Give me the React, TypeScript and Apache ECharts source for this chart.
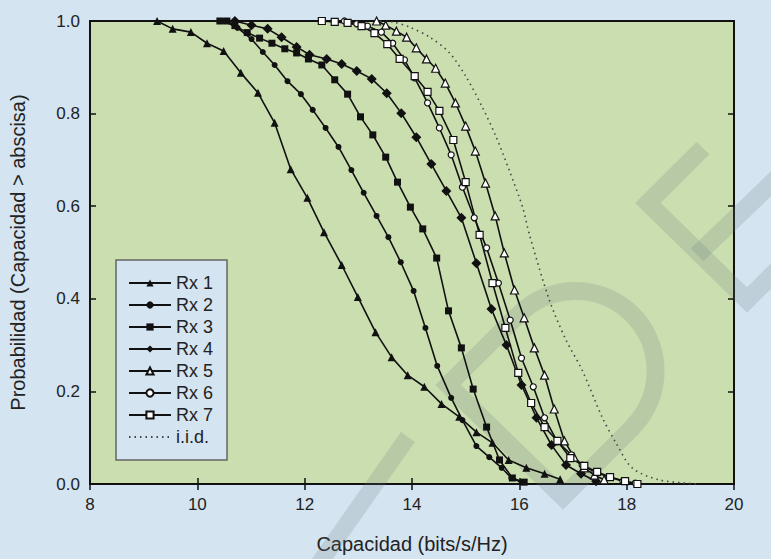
import React, { useEffect, useRef } from "react";
import * as echarts from "echarts";

const xTicks = [8, 10, 12, 14, 16, 18, 20];
const yTicks = [0, 0.2, 0.4, 0.6, 0.8, 1.0];
const seriesNames = ["Rx 1", "Rx 2", "Rx 3", "Rx 4", "Rx 5", "Rx 6", "Rx 7", "i.i.d."];

const rx1X = [9.25, 9.54, 9.88, 10.18, 10.49, 10.81, 11.13, 11.44, 11.74, 12.05, 12.36, 12.69, 12.99, 13.32, 13.62, 13.92, 14.23, 14.55, 14.88, 15.2, 15.5, 15.8, 16.13, 16.47, 16.76];
const rx1Y = [1.0, 0.983, 0.976, 0.952, 0.935, 0.888, 0.845, 0.78, 0.68, 0.618, 0.544, 0.473, 0.404, 0.328, 0.274, 0.235, 0.21, 0.173, 0.145, 0.112, 0.089, 0.052, 0.035, 0.022, 0.01];

const rx2X = [10.5, 10.75, 11.01, 11.22, 11.44, 11.68, 11.93, 12.15, 12.39, 12.63, 12.87, 13.1, 13.34, 13.56, 13.79, 14.03, 14.25, 14.47, 14.73, 14.94, 15.2, 15.44, 15.67, 15.85, 16.04];
const rx2Y = [1.0, 0.985, 0.961, 0.933, 0.905, 0.87, 0.842, 0.808, 0.769, 0.728, 0.678, 0.629, 0.579, 0.533, 0.479, 0.417, 0.337, 0.255, 0.186, 0.138, 0.082, 0.058, 0.035, 0.013, 0.004];

const rx3X = [10.42, 10.55, 10.7, 10.93, 11.16, 11.39, 11.63, 11.85, 12.07, 12.32, 12.56, 12.8, 13.04, 13.27, 13.51, 13.73, 13.97, 14.2, 14.46, 14.68, 14.92, 15.14, 15.39, 15.63, 15.87, 16.09];
const rx3Y = [1.0, 1.0, 0.99, 0.975, 0.963, 0.952, 0.94, 0.931, 0.918, 0.905, 0.873, 0.842, 0.793, 0.754, 0.706, 0.652, 0.598, 0.551, 0.488, 0.374, 0.294, 0.205, 0.123, 0.052, 0.013, 0.004];

const rx4X = [10.7, 11.01, 11.31, 11.57, 11.85, 12.09, 12.41, 12.69, 12.97, 13.25, 13.53, 13.8, 14.08, 14.36, 14.64, 14.92, 15.2, 15.48, 15.76, 16.04, 16.32, 16.6, 16.87, 17.15, 17.43];
const rx4Y = [1.0, 0.991, 0.983, 0.965, 0.944, 0.927, 0.918, 0.907, 0.892, 0.875, 0.844, 0.801, 0.749, 0.691, 0.633, 0.575, 0.477, 0.378, 0.3, 0.214, 0.143, 0.084, 0.041, 0.022, 0.006];

const rx5X = [13.34, 13.51, 13.71, 13.9, 14.08, 14.27, 14.44, 14.62, 14.81, 15.0, 15.18, 15.37, 15.55, 15.72, 15.91, 16.09, 16.28, 16.47, 16.65, 16.84, 17.02, 17.21, 17.4, 17.58];
const rx5Y = [1.0, 0.991, 0.978, 0.965, 0.942, 0.918, 0.898, 0.866, 0.823, 0.773, 0.719, 0.65, 0.579, 0.499, 0.419, 0.359, 0.294, 0.235, 0.162, 0.093, 0.058, 0.035, 0.019, 0.009];

const rx6X = [12.74, 12.97, 13.17, 13.43, 13.64, 13.86, 14.05, 14.29, 14.51, 14.73, 14.94, 15.16, 15.39, 15.61, 15.83, 16.04, 16.26, 16.47, 16.71, 16.97, 17.17, 17.41, 17.67, 17.93, 18.16];
const rx6Y = [1.0, 0.994, 0.989, 0.976, 0.952, 0.916, 0.877, 0.823, 0.769, 0.711, 0.641, 0.575, 0.51, 0.434, 0.354, 0.272, 0.21, 0.143, 0.091, 0.063, 0.041, 0.026, 0.015, 0.006, 0.002];

const rx7X = [12.32, 12.56, 12.8, 13.06, 13.3, 13.54, 13.77, 14.05, 14.29, 14.51, 14.77, 15.0, 15.26, 15.5, 15.74, 15.98, 16.22, 16.47, 16.71, 16.95, 17.21, 17.45, 17.69, 17.97, 18.2];
const rx7Y = [1.0, 0.998, 0.996, 0.989, 0.974, 0.95, 0.918, 0.881, 0.847, 0.806, 0.743, 0.652, 0.538, 0.434, 0.337, 0.24, 0.175, 0.123, 0.093, 0.056, 0.039, 0.026, 0.015, 0.006, 0.0];

const iidX = [13.3, 13.64, 13.95, 14.33, 14.7, 15.01, 15.31, 15.57, 15.81, 16.06, 16.19, 16.56, 16.87, 17.17, 17.54, 17.8, 18.1, 18.6, 19.35];
const iidY = [1.0, 0.998, 0.987, 0.965, 0.931, 0.879, 0.814, 0.749, 0.678, 0.598, 0.538, 0.397, 0.311, 0.246, 0.145, 0.089, 0.035, 0.009, 0.0];

const zip = (xs: number[], ys: number[]) => xs.map((x, i) => [x, ys[i]]);

export default function App() {
  const ref = useRef<HTMLDivElement>(null);
  useEffect(() => {
    if (!ref.current) return;
    const chart = echarts.init(ref.current, null, { renderer: "svg" });
    const font = "'Liberation Sans', Arial, sans-serif";
    const mk = (name: string, data: number[][], symbol: string, size: number, open: boolean) => ({
      name,
      type: "line",
      data,
      symbol,
      symbolSize: size,
      showSymbol: true,
      lineStyle: { color: "#111", width: 1.6 },
      itemStyle: { color: open ? "#ffffff" : "#111", borderColor: "#111", borderWidth: open ? 1.2 : 0 },
      z: 3,
    });
    const wm = "rgba(110,125,125,0.2)";
    const deg = Math.PI / 180;
    const wmStroke = (points: number[][], w: number) => ({
      type: "polyline", z: 1, silent: true,
      shape: { points },
      style: { stroke: wm, lineWidth: w, fill: "none", lineJoin: "miter" },
    });
    chart.setOption({
      animation: false,
      backgroundColor: "#d4e4f0",
      grid: { left: 90, right: 37, top: 21, bottom: 75, show: true, backgroundColor: "#cadeb0", borderColor: "#111", borderWidth: 2 },
      legend: {
        orient: "vertical",
        left: 116,
        top: 260,
        width: 113,
        backgroundColor: "#d4e4f0",
        borderColor: "#666",
        borderWidth: 1.5,
        padding: [14, 14, 14, 12],
        itemGap: 4,
        itemWidth: 42,
        itemHeight: 9,
        textStyle: { fontSize: 18, fontFamily: font, color: "#222" },
        data: seriesNames.map((n) => (n === "i.i.d." ? { name: n, itemStyle: { opacity: 0 } } : n)),
      },
      xAxis: [
        {
          type: "value", min: 8, max: 20, interval: 2,
          name: "Capacidad (bits/s/Hz)", nameLocation: "middle", nameGap: 50,
          nameTextStyle: { fontSize: 20, fontFamily: font, color: "#222" },
          axisLine: { lineStyle: { color: "#111", width: 2 } },
          axisTick: { inside: true, length: 6, lineStyle: { color: "#111", width: 1.5 } },
          axisLabel: { fontSize: 17, fontFamily: font, color: "#222", margin: 12 },
          splitLine: { show: false },
        },
        {
          type: "value", min: 8, max: 20, interval: 2, position: "top",
          axisLine: { lineStyle: { color: "#111", width: 2 } },
          axisTick: { inside: true, length: 6, lineStyle: { color: "#111", width: 1.5 } },
          axisLabel: { show: false },
          splitLine: { show: false },
        },
      ],
      yAxis: [
        {
          type: "value", min: 0, max: 1, interval: 0.2,
          name: "Probabilidad (Capacidad > abscisa)", nameLocation: "middle", nameGap: 62,
          nameTextStyle: { fontSize: 20, fontFamily: font, color: "#222" },
          axisLine: { lineStyle: { color: "#111", width: 2 } },
          axisTick: { inside: true, length: 6, lineStyle: { color: "#111", width: 1.5 } },
          axisLabel: { fontSize: 17, fontFamily: font, color: "#222", margin: 10, formatter: (v: number) => v.toFixed(1) },
          splitLine: { show: false },
        },
        {
          type: "value", min: 0, max: 1, interval: 0.2, position: "right",
          axisLine: { lineStyle: { color: "#111", width: 2 } },
          axisTick: { inside: true, length: 6, lineStyle: { color: "#111", width: 1.5 } },
          axisLabel: { show: false },
          splitLine: { show: false },
        },
      ],
      graphic: [
        // rotated "E"
        wmStroke([[703, 148], [648, 203], [747, 300], [800, 247]], 18),
        wmStroke([[697, 255], [780, 175]], 18),
        // rotated "D"
        wmStroke([[518, 315], [448, 385], [563, 497], [633, 427]], 18),
        {
          type: "arc", z: 1, silent: true,
          shape: { cx: 575.5, cy: 371, r: 80, startAngle: -135.8 * deg, endAngle: 44.2 * deg },
          style: { stroke: wm, lineWidth: 18, fill: "none" },
        },
        // partial letter at the bottom
        wmStroke([[318, 565], [408, 437]], 17),
      ],
      series: [
        mk("Rx 1", zip(rx1X, rx1Y), "triangle", 8, false),
        mk("Rx 2", zip(rx2X, rx2Y), "circle", 6, false),
        mk("Rx 3", zip(rx3X, rx3Y), "rect", 7, false),
        mk("Rx 4", zip(rx4X, rx4Y), "diamond", 10, false),
        mk("Rx 5", zip(rx5X, rx5Y), "triangle", 8, true),
        mk("Rx 6", zip(rx6X, rx6Y), "circle", 6, true),
        mk("Rx 7", zip(rx7X, rx7Y), "rect", 7, true),
        {
          name: "i.i.d.",
          type: "line",
          data: zip(iidX, iidY),
          smooth: 0.3,
          showSymbol: false,
          symbol: "none",
          lineStyle: { color: "#444", width: 1.6, type: [1.5, 4] },
          itemStyle: { color: "#444" },
          z: 3,
        },
      ],
    });
    return () => chart.dispose();
  }, []);
  return <div ref={ref} style={{ position: "fixed", left: 0, top: 0, width: 771, height: 559 }} />;
}
